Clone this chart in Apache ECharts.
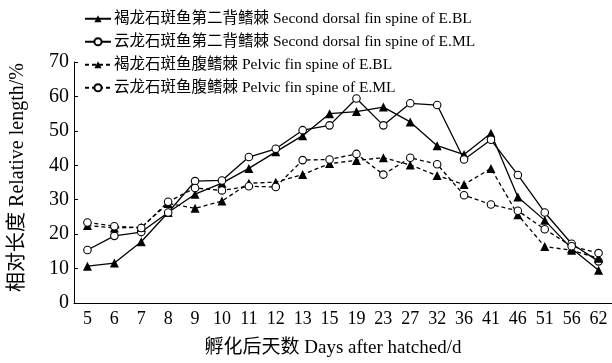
<!DOCTYPE html>
<html><head><meta charset="utf-8">
<script src="https://cdn.jsdelivr.net/npm/echarts@6/dist/echarts.min.js"></script>
<style>html,body{margin:0;padding:0;background:#fff}#c{width:612px;height:363px}</style>
</head><body><div id="c"></div>
<script>
const categories = ['5','6','7','8','9','10','11','12','13','15','19','23','27','32','36','41','46','51','56','62'];
const dorsalBL = [10.7, 11.6, 17.8, 26.3, 31.6, 34.8, 39.1, 43.9, 48.6, 55.0, 55.6, 56.9, 52.6, 45.7, 43.1, 49.3, 30.8, 24.0, 15.8, 9.5];
const dorsalML = [15.4, 19.5, 20.6, 26.3, 35.4, 35.6, 42.4, 44.8, 50.2, 51.6, 59.4, 51.6, 58.0, 57.5, 41.7, 47.4, 37.2, 26.3, 17.2, 12.1];
const pelvicBL = [22.5, 21.8, 22.0, 28.9, 27.5, 29.6, 34.8, 35.1, 37.3, 40.5, 41.4, 42.2, 40.1, 37.0, 34.4, 39.1, 25.6, 16.4, 15.3, 13.0];
const pelvicML = [23.4, 22.3, 21.8, 29.4, 33.4, 32.7, 33.9, 33.7, 41.5, 41.7, 43.3, 37.3, 42.2, 40.3, 31.3, 28.6, 26.8, 21.4, 16.5, 14.5];
const seriesNames = [
  '褐龙石斑鱼第二背鳍棘 Second dorsal fin spine of E.BL',
  '云龙石斑鱼第二背鳍棘 Second dorsal fin spine of E.ML',
  '褐龙石斑鱼腹鳍棘 Pelvic fin spine of E.BL',
  '云龙石斑鱼腹鳍棘 Pelvic fin spine of E.ML'
];
const yTicks = {min: 0, max: 70, interval: 10};
const xName = '孵化后天数 Days after hatched/d';
const yName = '相对长度 Relative length/%';

const FONT = "'Liberation Serif','Noto Sans CJK SC',serif";
function mk(name, data, sym, dashed) {
  const tri = sym === 'tri';
  return {
    name, type: 'line', data,
    symbol: tri ? 'triangle' : 'circle',
    symbolSize: tri ? 9 : 7.5,
    itemStyle: {color: tri ? '#000' : '#fff', borderColor: '#000', borderWidth: tri ? 0 : 1.1},
    lineStyle: {color: '#000', width: 1.3, type: dashed ? [4, 3] : 'solid'},
    emphasis: {disabled: true},
    animation: false
  };
}
const chart = echarts.init(document.getElementById('c'), null, {renderer: 'canvas'});
chart.setOption({
  backgroundColor: '#fff',
  animation: false,
  grid: {left: 66, right: -3, top: 62, bottom: 54.5, containLabel: false},
  legend: {
    orient: 'vertical', left: 79, top: 6, itemGap: 7.5, itemWidth: 26, itemHeight: 9,
    textStyle: {fontFamily: FONT, fontSize: 15.5, color: '#000', padding: [0,0,0,-2]},
    data: seriesNames
  },
  xAxis: {
    type: 'category', data: categories, boundaryGap: true,
    axisLine: {lineStyle: {color: '#000', width: 1}},
    axisTick: {inside: true, length: 4, lineStyle: {color: '#000'}},
    axisLabel: {color: '#000', fontFamily: FONT, fontSize: 18, margin: 7, interval: 0},
    name: xName, nameLocation: 'middle', nameGap: 36,
    nameTextStyle: {color: '#000', fontFamily: FONT, fontSize: 19, padding: [0, 20, 0, 0]}
  },
  yAxis: {
    type: 'value', min: yTicks.min, max: yTicks.max, interval: yTicks.interval,
    axisLine: {show: true, lineStyle: {color: '#000', width: 1}},
    axisTick: {show: true, inside: true, length: 4, lineStyle: {color: '#000'}},
    splitLine: {show: false},
    axisLabel: {color: '#000', fontFamily: FONT, fontSize: 20, margin: 5},
    name: yName, nameLocation: 'middle', nameGap: 46, nameRotate: 90,
    nameTextStyle: {color: '#000', fontFamily: FONT, fontSize: 20, padding: [0, 0, 0, 10]}
  },
  series: [
    mk(seriesNames[0], dorsalBL, 'tri', false),
    mk(seriesNames[1], dorsalML, 'circ', false),
    mk(seriesNames[2], pelvicBL, 'tri', true),
    mk(seriesNames[3], pelvicML, 'circ', true)
  ]
});
</script></body></html>
